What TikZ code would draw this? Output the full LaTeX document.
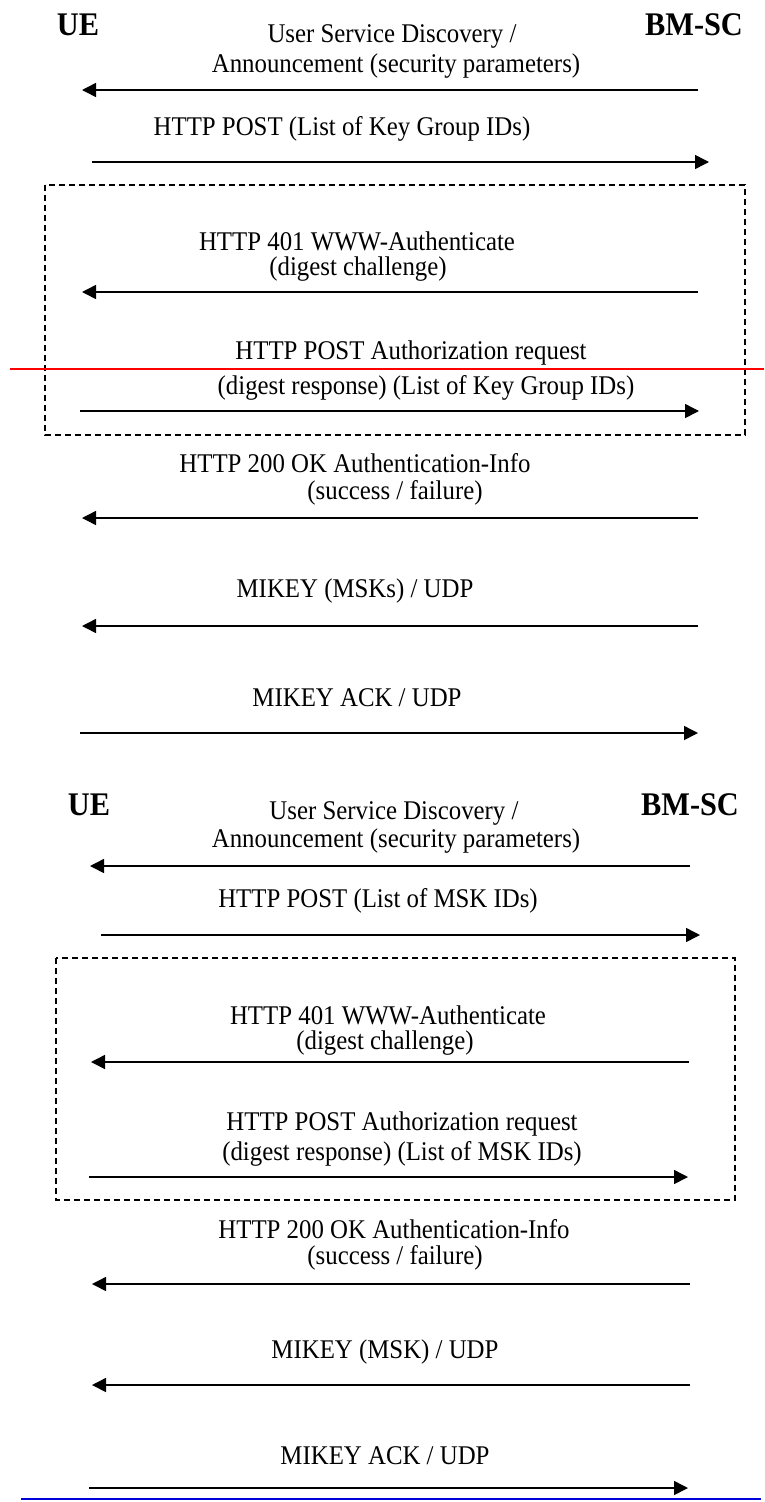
\documentclass[tikz,border=0pt]{standalone}
\usepackage{fontspec}
\setmainfont{Liberation Serif}[FakeStretch=0.92]
\usetikzlibrary{arrows.meta}
\begin{document}
\begin{tikzpicture}[x=1pt,y=-1pt,
  msg/.style={font=\fontsize{27}{30}\selectfont, inner sep=0pt},
  actor/.style={font=\fontsize{33}{36}\selectfont\bfseries, inner sep=0pt},
  arr/.style={line width=1.5pt, -{Triangle[length=14pt,width=14pt]}},
  grp/.style={draw, dash pattern=on 6pt off 4pt, line width=1.6pt},
  rule/.style={line width=2pt}
]
\useasboundingbox (0,0) rectangle (764,1502);

% ---------- Section 1 ----------
\node[actor] (ue1) at (78,25) {UE};
\node[actor] (bm1) at (694,25) {BM-SC};
\node[msg] (t1a) at (392,36) {User Service Discovery /};
\node[msg] (t1b) at (396,66) {Announcement (security parameters)};
\coordinate (a1r) at (698,90); \coordinate (a1l) at (82,90);
\draw[arr] (a1r) -- (a1l);
\node[msg] (t2) at (342,129) {HTTP POST (List of Key Group IDs)};
\coordinate (a2l) at (92,162); \coordinate (a2r) at (709,162);
\draw[arr] (a2l) -- (a2r);
\coordinate (b1tl) at (45,185); \coordinate (b1br) at (745,435);
\draw[grp] (b1tl) rectangle (b1br);
\node[msg] (t3a) at (357,241) {HTTP 401 WWW-Authenticate};
\node[msg] (t3b) at (358,269) {(digest challenge)};
\coordinate (a3r) at (698,292); \coordinate (a3l) at (82,292);
\draw[arr] (a3r) -- (a3l);
\node[msg] (t4a) at (411,353) {HTTP POST Authorization request};
\node[msg] (t4b) at (426,388) {(digest response) (List of Key Group IDs)};
\coordinate (a4l) at (80,411); \coordinate (a4r) at (699,411);
\draw[arr] (a4l) -- (a4r);
\coordinate (redl) at (10,369); \coordinate (redr) at (764,369);
\draw[rule, red] (redl) -- (redr);
\node[msg] (t5a) at (355,463) {HTTP 200 OK Authentication-Info};
\node[msg] (t5b) at (395,493) {(success / failure)};
\coordinate (a5r) at (698,518); \coordinate (a5l) at (82,518);
\draw[arr] (a5r) -- (a5l);
\node[msg] (t6) at (355,591) {MIKEY (MSKs) / UDP};
\coordinate (a6r) at (698,626); \coordinate (a6l) at (82,626);
\draw[arr] (a6r) -- (a6l);
\node[msg] (t7) at (357,698) {MIKEY ACK / UDP};
\coordinate (a7l) at (80,733); \coordinate (a7r) at (698,733);
\draw[arr] (a7l) -- (a7r);

% ---------- Section 2 ----------
\node[actor] (ue2) at (89,805) {UE};
\node[actor] (bm2) at (690,805) {BM-SC};
\node[msg] (s1a) at (394,813) {User Service Discovery /};
\node[msg] (s1b) at (396,841) {Announcement (security parameters)};
\coordinate (c1r) at (690,866); \coordinate (c1l) at (90,866);
\draw[arr] (c1r) -- (c1l);
\node[msg] (s2) at (378,901) {HTTP POST (List of MSK IDs)};
\coordinate (c2l) at (101,935); \coordinate (c2r) at (700,935);
\draw[arr] (c2l) -- (c2r);
\coordinate (b2tl) at (56,958); \coordinate (b2br) at (735,1200);
\draw[grp] (b2tl) rectangle (b2br);
\node[msg] (s3a) at (388,1015) {HTTP 401 WWW-Authenticate};
\node[msg] (s3b) at (385,1043) {(digest challenge)};
\coordinate (c3r) at (689,1062); \coordinate (c3l) at (91,1062);
\draw[arr] (c3r) -- (c3l);
\node[msg] (s4a) at (402,1124) {HTTP POST Authorization request};
\node[msg] (s4b) at (402,1154) {(digest response) (List of MSK IDs)};
\coordinate (c4l) at (89,1177); \coordinate (c4r) at (688,1177);
\draw[arr] (c4l) -- (c4r);
\node[msg] (s5a) at (394,1229) {HTTP 200 OK Authentication-Info};
\node[msg] (s5b) at (395,1258) {(success / failure)};
\coordinate (c5r) at (690,1284); \coordinate (c5l) at (92,1284);
\draw[arr] (c5r) -- (c5l);
\node[msg] (s6) at (385,1352) {MIKEY (MSK) / UDP};
\coordinate (c6r) at (690,1385); \coordinate (c6l) at (92,1385);
\draw[arr] (c6r) -- (c6l);
\node[msg] (s7) at (385,1456) {MIKEY ACK / UDP};
\coordinate (c7l) at (89,1488); \coordinate (c7r) at (688,1488);
\draw[arr] (c7l) -- (c7r);
\coordinate (bluel) at (21,1499); \coordinate (bluer) at (761,1499);
\draw[rule, blue!85!black] (bluel) -- (bluer);
\end{tikzpicture}
\end{document}
